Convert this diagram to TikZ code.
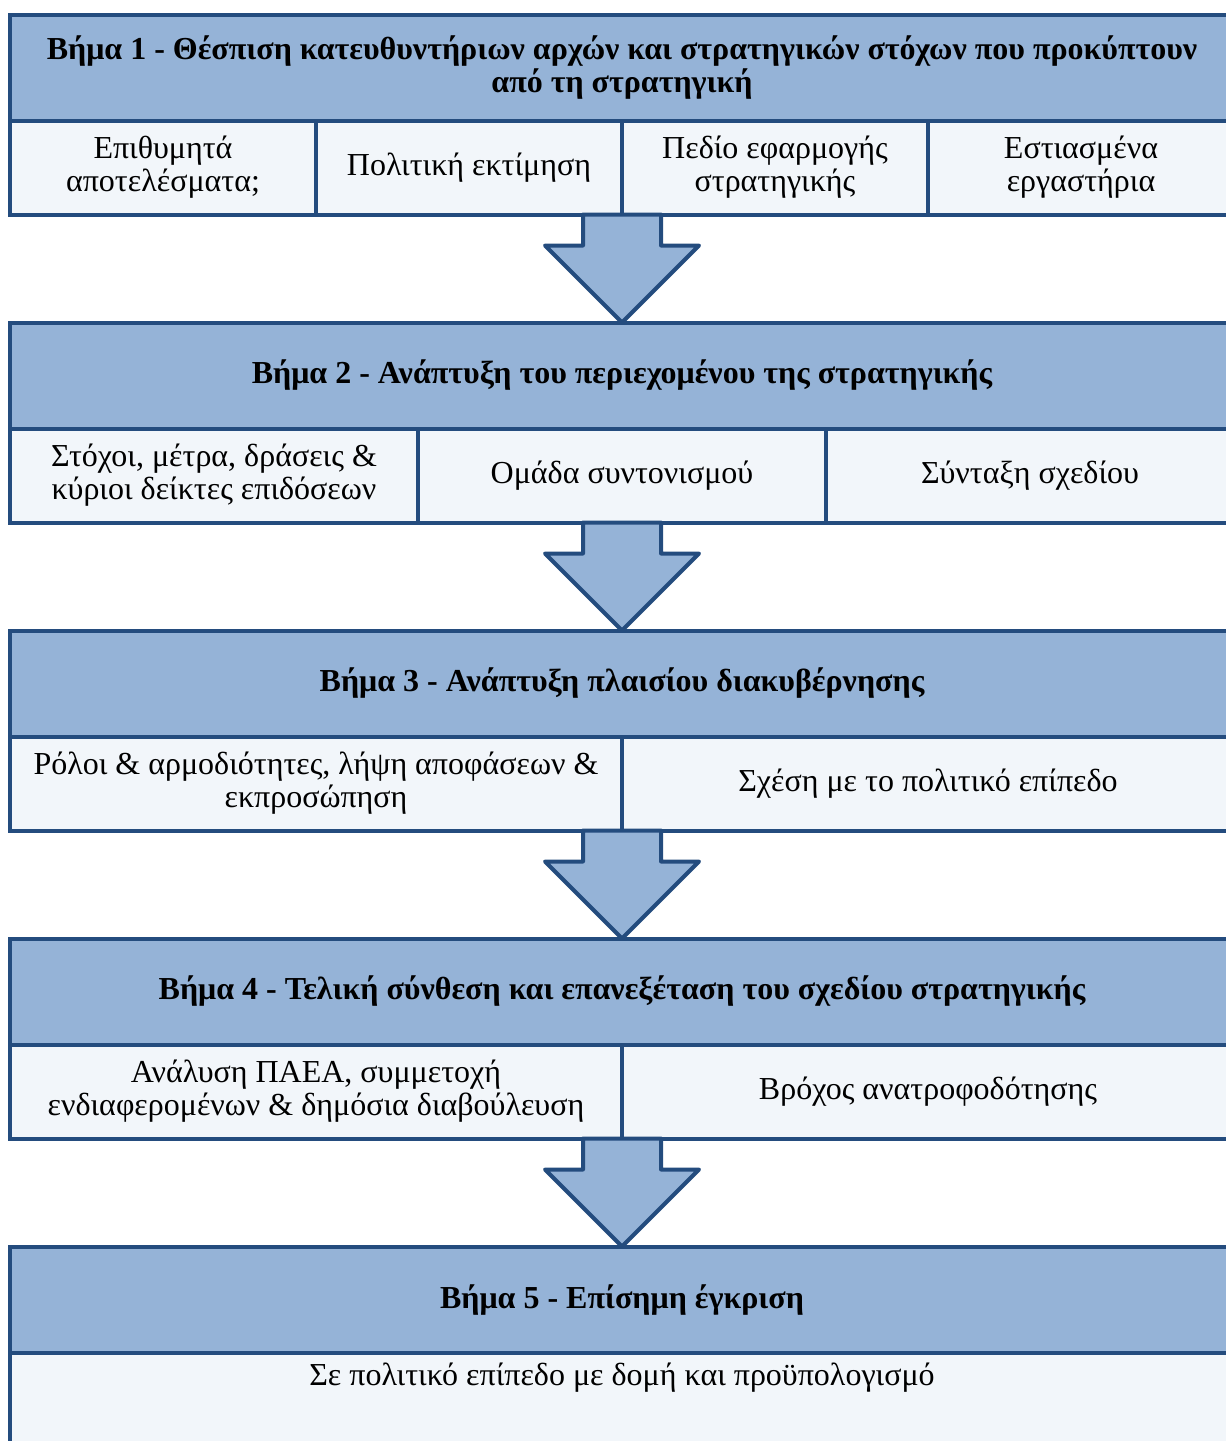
\documentclass[tikz,border=0pt]{standalone}
\usepackage{fontspec}
\setmainfont{Liberation Serif}
\usetikzlibrary{positioning, calc}
\definecolor{frameblue}{RGB}{36,76,126}
\definecolor{headblue}{RGB}{149,179,215}
\definecolor{cellgrey}{RGB}{242,246,250}
\tikzset{
  header/.style={draw=frameblue, fill=headblue, line width=2pt, outer sep=0pt, inner sep=0pt, align=center, minimum width=612pt, minimum height=53pt, anchor=north west, font=\fontsize{16}{16.5}\selectfont\bfseries},
  cell/.style={draw=frameblue, fill=cellgrey, line width=2pt, outer sep=0pt, inner sep=0pt, align=center, minimum height=47pt, anchor=north west, font=\fontsize{16}{16.5}\selectfont},
  celltext/.style={inner sep=0pt, font=\fontsize{16}{16.5}\selectfont},
  downarrow/.style={draw=frameblue, fill=headblue, line width=2pt, line join=round}
}

\begin{document}
\begin{tikzpicture}[x=0.5pt, y=-0.5pt]
    \path[use as bounding box, clip] (0,0) rectangle (1226,1441);

    % step 1
    \node[header] (h1) at (10,14.5) {Βήμα 1 - Θέσπιση κατευθυντήριων αρχών και στρατηγικών στόχων που προκύπτουν\\από τη στρατηγική};
    \node[cell, minimum width=153pt] (c11) at (h1.south west) {Επιθυμητά\\αποτελέσματα;};
    \node[cell, minimum width=153pt, right=0pt of c11] (c12) {Πολιτική εκτίμηση};
    \node[cell, minimum width=153pt, right=0pt of c12] (c13) {Πεδίο εφαρμογής\\στρατηγικής};
    \node[cell, minimum width=153pt, right=0pt of c13] (c14) {Εστιασμένα\\εργαστήρια};

    % step 2
    \node[header] (h2) at (10,322.5) {Βήμα 2 - Ανάπτυξη του περιεχομένου της στρατηγικής};
    \node[cell, minimum width=204pt] (c21) at (h2.south west) {Στόχοι, μέτρα, δράσεις \&\\κύριοι δείκτες επιδόσεων};
    \node[cell, minimum width=204pt, right=0pt of c21] (c22) {Ομάδα συντονισμού};
    \node[cell, minimum width=204pt, right=0pt of c22] (c23) {Σύνταξη σχεδίου};

    % step 3
    \node[header] (h3) at (10,630.5) {Βήμα 3 - Ανάπτυξη πλαισίου διακυβέρνησης};
    \node[cell, minimum width=306pt] (c31) at (h3.south west) {Ρόλοι \& αρμοδιότητες, λήψη αποφάσεων \&\\εκπροσώπηση};
    \node[cell, minimum width=306pt, right=0pt of c31] (c32) {Σχέση με το πολιτικό επίπεδο};

    % step 4
    \node[header] (h4) at (10,938.5) {Βήμα 4 - Τελική σύνθεση και επανεξέταση του σχεδίου στρατηγικής};
    \node[cell, minimum width=306pt] (c41) at (h4.south west) {Ανάλυση ΠΑΕΑ, συμμετοχή\\ενδιαφερομένων \& δημόσια διαβούλευση};
    \node[cell, minimum width=306pt, right=0pt of c41] (c42) {Βρόχος ανατροφοδότησης};

    % step 5
    \node[header] (h5) at (10,1246.5) {Βήμα 5 - Επίσημη έγκριση};
    \node[cell, minimum width=612pt, minimum height=60pt] (c51) at (h5.south west) {};
    \node[celltext, below=5pt of h5.south] (approval) {Σε πολιτικό επίπεδο με δομή και προϋπολογισμό};

    % block arrows between the steps
    \foreach \a/\b in {1/2,2/3,3/4,4/5} {
        \coordinate (top) at (h\a.south |- c\a1.south);
        \draw[downarrow] ($(top)+(-39,0)$) -- ++(0,31) -- ++(-38,0) -- (h\b.north)
            -- ($(top)+(77,31)$) -- ++(-38,0) -- ($(top)+(39,0)$) -- cycle;
    }
\end{tikzpicture}
\end{document}
